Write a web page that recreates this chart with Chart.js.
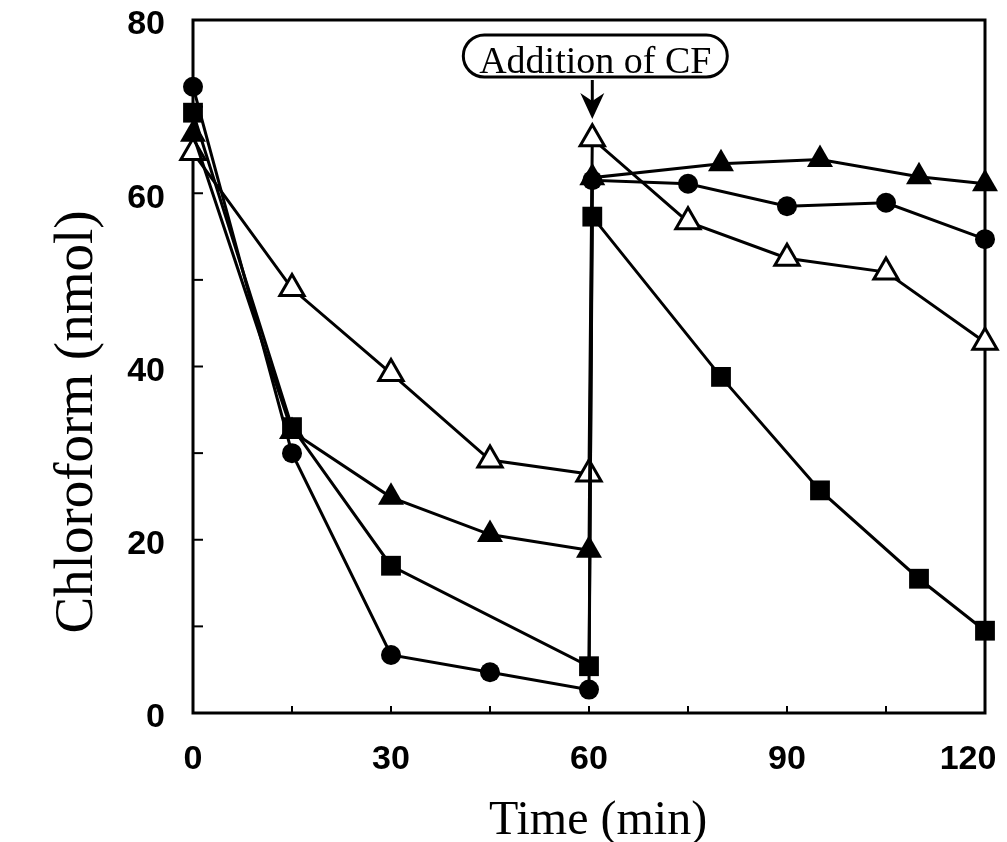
<!DOCTYPE html>
<html>
<head>
<meta charset="utf-8">
<script src="https://cdn.jsdelivr.net/npm/chart.js@4.4.1/dist/chart.umd.min.js"></script>
<style>
  html, body { margin: 0; padding: 0; background: #fff; }
</style>
</head>
<body>
<canvas id="myChart" width="1007" height="842"></canvas>
<script>
// time points (min) and chloroform (nmol) for each series
const timeCircle = [0, 15, 30, 45, 60, 60.5, 75, 90, 105, 120];
const circleValues = [72.3, 30.0, 6.7, 4.7, 2.7, 61.5, 61.1, 58.5, 58.9, 54.7];

const timeSquare = [0, 15, 30, 60, 60.5, 80, 95, 110, 120];
const squareValues = [69.3, 33.0, 17.0, 5.4, 57.3, 38.8, 25.7, 15.5, 9.5];

const timeTriangle = [0, 15, 30, 45, 60, 60.5, 80, 95, 110, 120];
const triangleValues = [66.8, 32.5, 24.9, 20.6, 18.8, 61.8, 63.4, 63.9, 61.9, 61.1];

const timeOpen = [0, 15, 30, 45, 60, 60.5, 75, 90, 105, 120];
const openValues = [64.7, 49.0, 39.2, 29.2, 27.6, 66.3, 56.7, 52.5, 50.9, 42.8];

const xTicks = [0, 30, 60, 90, 120];
const yTicks = [0, 20, 40, 60, 80];
const additionTime = 60.5;
const noteText = 'Addition of CF';
const xTitle = 'Time (min)';
const yTitle = 'Chloroform (nmol)';

function pts(t, v) {
    return t.map((x, i) => ({ x: x, y: v[i] }));
}

// box, inward ticks, axis titles and the note
const frame = {
    id: 'frame',
    beforeDatasetsDraw(chart) {
        const { ctx, chartArea: a, scales: { x, y } } = chart;
        ctx.save();
        ctx.strokeStyle = '#000';
        ctx.lineWidth = 3;
        ctx.strokeRect(a.left, a.top, a.right - a.left, a.bottom - a.top);
        ctx.lineWidth = 2;
        for (let v = 10; v < 80; v += 10) {
            const py = y.getPixelForValue(v);
            ctx.beginPath();
            ctx.moveTo(a.left, py);
            ctx.lineTo(a.left + 10, py);
            ctx.stroke();
        }
        for (let t = 15; t < 120; t += 15) {
            const px = x.getPixelForValue(t);
            ctx.beginPath();
            ctx.moveTo(px, a.bottom);
            ctx.lineTo(px, a.bottom - 7);
            ctx.stroke();
        }
        ctx.fillStyle = '#000';
        ctx.textAlign = 'center';
        ctx.textBaseline = 'alphabetic';
        ctx.font = '48px "Liberation Serif"';
        ctx.fillText(xTitle, 598, 834);
        ctx.translate(92, 422);
        ctx.rotate(-Math.PI / 2);
        ctx.font = '55px "Liberation Serif"';
        ctx.fillText(yTitle, 0, 0);
        ctx.restore();
    },
    afterDatasetsDraw(chart) {
        const { ctx, chartArea: a, scales: { x } } = chart;
        const ax = x.getPixelForValue(additionTime);
        const cx = ax + 3;
        ctx.save();
        ctx.strokeStyle = '#000';
        ctx.fillStyle = '#000';
        ctx.lineWidth = 3;
        ctx.beginPath();
        ctx.roundRect(cx - 132, a.top + 15, 264, 42, 21);
        ctx.stroke();
        ctx.font = '38px "Liberation Serif"';
        ctx.textAlign = 'center';
        ctx.textBaseline = 'alphabetic';
        ctx.fillText(noteText, cx, a.top + 53);
        // arrow
        ctx.beginPath();
        ctx.moveTo(ax, a.top + 60);
        ctx.lineTo(ax, a.top + 85);
        ctx.stroke();
        ctx.beginPath();
        ctx.moveTo(ax, a.top + 99);
        ctx.lineTo(ax - 12, a.top + 73);
        ctx.lineTo(ax, a.top + 81);
        ctx.lineTo(ax + 12, a.top + 73);
        ctx.closePath();
        ctx.fill();
        ctx.restore();
    }
};

const base = {
    showLine: true,
    borderColor: '#000',
    borderWidth: 3,
    tension: 0,
    clip: false,
    pointBorderColor: '#000',
};

const config = {
    type: 'scatter',
    data: {
        datasets: [
            { ...base, label: 'square', data: pts(timeSquare, squareValues),
              pointStyle: 'rect', pointRadius: 14, pointBackgroundColor: '#000', pointBorderWidth: 0 },
            { ...base, label: 'triangle', data: pts(timeTriangle, triangleValues),
              pointStyle: 'triangle', pointRadius: 15, pointBackgroundColor: '#000', pointBorderWidth: 0 },
            { ...base, label: 'circle', data: pts(timeCircle, circleValues),
              pointStyle: 'circle', pointRadius: 10, pointBackgroundColor: '#000', pointBorderWidth: 0 },
            { ...base, label: 'open triangle', data: pts(timeOpen, openValues),
              pointStyle: 'triangle', pointRadius: 14, pointBackgroundColor: '#fff', pointBorderWidth: 3 },
        ]
    },
    options: {
        responsive: false,
        animation: false,
        devicePixelRatio: 1,
        layout: { padding: { top: 20, right: 22, left: 0, bottom: 0 } },
        plugins: { legend: { display: false }, tooltip: { enabled: false } },
        scales: {
            x: {
                type: 'linear',
                min: 0,
                max: 120,
                afterBuildTicks: s => { s.ticks = xTicks.map(v => ({ value: v })); },
                afterFit: s => {
                    s.height = 129;
                    s.paddingLeft = 0; s.paddingRight = 0;
                    s.paddingTop = 0; s.paddingBottom = 0;
                },
                grid: { display: false, drawTicks: false },
                border: { display: false },
                ticks: {
                    color: '#000',
                    padding: 30,
                    maxRotation: 0,
                    // trailing en spaces pull the last label in so it stays on the page
                    callback: v => (v === 120 ? '120\u2002\u2002' : String(v)),
                    font: { family: 'Liberation Sans', weight: 'bold', size: 34, lineHeight: 1 }
                }
            },
            y: {
                min: 0,
                max: 80,
                afterBuildTicks: s => { s.ticks = yTicks.map(v => ({ value: v })); },
                afterFit: s => {
                    s.width = 193;
                    s.paddingLeft = 0; s.paddingRight = 0;
                    s.paddingTop = 0; s.paddingBottom = 0;
                },
                grid: { display: false, drawTicks: false },
                border: { display: false },
                ticks: {
                    color: '#000',
                    padding: 28,
                    labelOffset: 5,
                    font: { family: 'Liberation Sans', weight: 'bold', size: 34, lineHeight: 1 }
                }
            }
        }
    },
    plugins: [frame]
};

var myChart = new Chart(document.getElementById('myChart').getContext('2d'), config);
</script>
</body>
</html>
